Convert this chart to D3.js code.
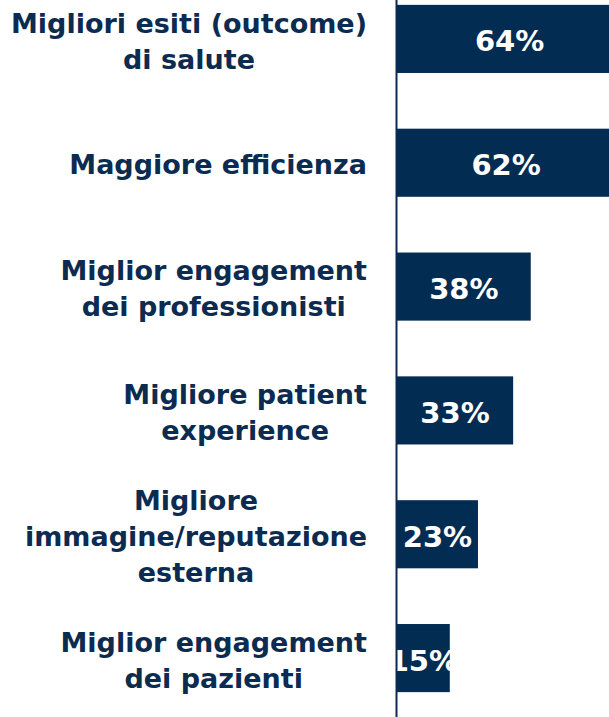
<!DOCTYPE html>
<html>
<head>
<meta charset="utf-8">
<script src="https://cdn.jsdelivr.net/npm/d3@7"></script>
<style>
  body { margin: 0; background: #fff; }
  text { font-family: "DejaVu Sans", sans-serif; font-weight: bold; }
</style>
</head>
<body>
<div id="chart"></div>
<script>
// data
var categories = [
    ["Migliori esiti (outcome)", "di salute"],
    ["Maggiore efficienza"],
    ["Miglior engagement", "dei professionisti"],
    ["Migliore patient", "experience"],
    ["Migliore", "immagine/reputazione", "esterna"],
    ["Miglior engagement", "dei pazienti"]
];
var values = [64, 62, 38, 33, 23, 15];
var valueLabels = ["64%", "62%", "38%", "33%", "23%", "15%"];

var svgWidth = 609;
var svgHeight = 717;
var navy = "#032c52";
var textColor = "#0c2b50";

var svg = d3.select("#chart")
    .append("svg")
    .attr("width", svgWidth)
    .attr("height", svgHeight);

var yScale = d3.scaleBand()
    .domain(d3.range(values.length))
    .range([-23, 720])
    .paddingInner(0.45)
    .paddingOuter(0.225);

var xScale = d3.scaleLinear()
    .domain([0, 100])
    .range([397, 397 + 352]);

// bars
svg.selectAll(".bar")
    .data(values)
    .enter()
    .append("rect")
    .attr("class", "bar")
    .attr("x", xScale(0))
    .attr("y", (d, i) => yScale(i))
    .attr("width", d => xScale(d) - xScale(0))
    .attr("height", yScale.bandwidth())
    .attr("fill", navy);

// value labels inside the bars
svg.selectAll(".val")
    .data(values)
    .enter()
    .append("text")
    .attr("class", "val")
    .attr("x", d => (xScale(0) + xScale(d)) / 2)
    .attr("y", (d, i) => yScale(i) + yScale.bandwidth() / 2 + 2)
    .attr("dy", "0.36em")
    .attr("text-anchor", "middle")
    .attr("fill", "#fff")
    .style("font-size", "29px")
    .text((d, i) => valueLabels[i]);

// vertical axis line
var yAxis = d3.axisLeft(yScale).tickSize(0).tickFormat("");
var axisG = svg.append("g")
    .attr("transform", `translate(${xScale(0) - 1}, 0)`)
    .call(yAxis);
axisG.select(".domain")
    .attr("stroke", textColor)
    .attr("stroke-width", 2);

// category labels: block right aligned, lines centred within block
var lineHeight = 36;
var labelRight = 367;
categories.forEach(function (lines, i) {
    var g = svg.append("g");
    var cy = yScale(i) + yScale.bandwidth() / 2 + 2;
    var texts = lines.map(function (line, j) {
        return g.append("text")
            .attr("y", cy + (j - (lines.length - 1) / 2) * lineHeight)
            .attr("dy", "0.36em")
            .attr("text-anchor", "middle")
            .attr("fill", textColor)
            .style("font-size", "27px")
            .text(line);
    });
    var maxW = d3.max(texts, t => t.node().getComputedTextLength());
    texts.forEach(t => t.attr("x", labelRight - maxW / 2));
});
</script>
</body>
</html>
